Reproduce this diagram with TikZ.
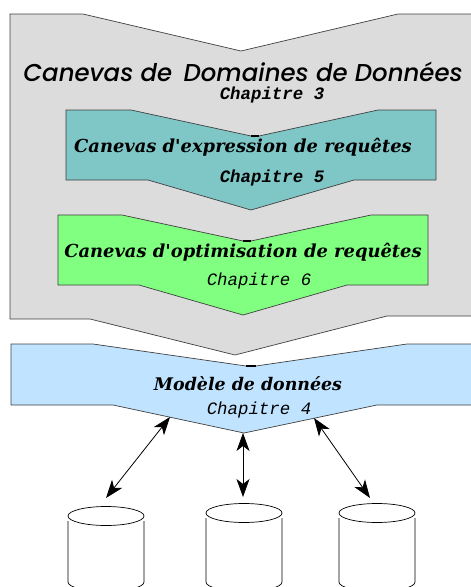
\documentclass[tikz,border=0pt]{standalone}
\usepackage{fontspec}
\usepackage{tikz}
\usetikzlibrary{arrows.meta,shapes.geometric}
\newfontfamily\titlefont[ItalicFont={Poppins Medium Italic}]{Poppins}
\newfontfamily\headfont{DejaVu Serif}
\newfontfamily\chapfont{Liberation Mono}
\tikzset{
    block/.style={draw=black!75, line width=0.7pt},
    apex/.style={line width=1.4pt, black},
    title/.style={font=\titlefont\itshape\fontsize{24.4}{25}\selectfont},
    head/.style={font=\headfont\bfseries\itshape\fontsize{17.9}{18}\selectfont},
    chapter/.style={font=\chapfont\itshape\fontsize{17.4}{18}\selectfont},
    chapterbold/.style={font=\chapfont\bfseries\itshape\fontsize{17.4}{18}\selectfont},
    link/.style={{Stealth[length=18pt,width=13pt,inset=5pt]}-{Stealth[length=18pt,width=13pt,inset=5pt]}, line width=0.8pt},
    tanktop/.style={draw, ellipse, minimum width=76pt, minimum height=19pt, inner sep=0pt, line width=0.7pt},
    tankside/.style={line width=0.7pt},
}
\begin{document}
\begin{tikzpicture}[x=1pt, y=-1pt]
    \useasboundingbox (0,0) rectangle (471,587);
    \draw[block, fill={rgb,255:red,220;green,220;blue,220}] (10,14) -- (83,14) -- (241,51) -- (398,14) -- (480,14) -- (480,316) -- (387,316) -- (235,355) -- (90,319) -- (10,319) -- cycle;
    \node[title] (outertitle) at (243,72) {Canevas de\, Domaines de Données};
    \node[chapterbold] (outerchapter) at (272,95) {Chapitre 3};

    \draw[block, fill={rgb,255:red,127;green,198;blue,198}] (66,110) -- (131,110) -- (251,136) -- (259,136) -- (378,110) -- (436,110) -- (436,180) -- (354,180) -- (251,210) -- (148,180) -- (66,180) -- cycle;
    \draw[apex] (251,136) -- (259,136);
    \node[head] (expression) at (243,147) {Canevas d'expression de requêtes};
    \node[chapterbold] (expressionchapter) at (272,178) {Chapitre 5};

    \draw[block, fill={rgb,255:red,128;green,255;blue,128}] (58,215) -- (122,215) -- (243,241) -- (251,241) -- (371,215) -- (428,215) -- (428,285) -- (347,285) -- (243,315) -- (139,285) -- (58,285) -- cycle;
    \draw[apex] (243,241) -- (251,241);
    \node[head] (optimisation) at (243,252) {Canevas d'optimisation de requêtes};
    \node[chapter] (optimisationchapter) at (259,281) {Chapitre 6};

    \draw[block, fill={rgb,255:red,192;green,228;blue,255}] (11,344) -- (93,344) -- (246,366) -- (256,366) -- (407,344) -- (480,344) -- (480,405) -- (377,405) -- (244,433) -- (113,405) -- (11,405) -- cycle;
    \draw[apex] (246,366) -- (256,366);
    \node[head, font=\headfont\bfseries\itshape\fontsize{17.4}{18}\selectfont] (model) at (248,384) {Modèle de données};
    \node[chapter] (modelchapter) at (259,410) {Chapitre 4};

    \coordinate (modelleft) at (170,417);
    \coordinate (modelmiddle) at (243,433);
    \coordinate (modelright) at (314,418);
    \coordinate (tankleftend) at (106,498);
    \coordinate (tankmiddleend) at (243,497);
    \coordinate (tankrightend) at (370,498);
    \draw[link] (modelleft) -- (tankleftend);
    \draw[link] (modelmiddle) -- (tankmiddleend);
    \draw[link] (modelright) -- (tankrightend);

    \node[tanktop] (tankleft) at (106,516) {};
    \draw[tankside] (68,521) -- (68,582) arc[start angle=180, end angle=0, x radius=38, y radius=9.5] -- (144,521);
    \node[tanktop] (tankmiddle) at (244,513) {};
    \draw[tankside] (206,518) -- (206,582) arc[start angle=180, end angle=0, x radius=38, y radius=9.5] -- (282,518);
    \node[tanktop] (tankright) at (377,513) {};
    \draw[tankside] (339,518) -- (339,582) arc[start angle=180, end angle=0, x radius=38, y radius=9.5] -- (415,518);
\end{tikzpicture}
\end{document}
